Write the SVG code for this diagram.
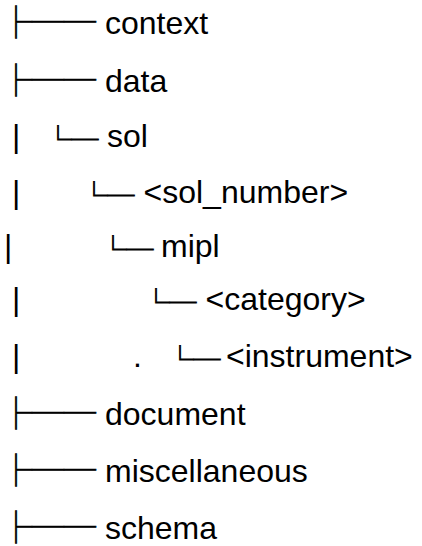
<svg xmlns="http://www.w3.org/2000/svg" width="422" height="546" viewBox="0 0 422 546">
<style>
.lbl{font-family:"Liberation Sans",Arial,sans-serif;font-size:32px;fill:#000}
.box{font-family:"Noto Sans CJK JP","Noto Sans CJK SC",sans-serif;font-size:32px;fill:#000;stroke:#000;stroke-width:0.7px}
.sub{font-family:"Noto Sans CJK JP","Noto Sans CJK SC",sans-serif;font-size:27px;fill:#000;stroke:#000;stroke-width:0.8px}
</style>
<rect width="422" height="546" fill="#fff"/>
<g id="connectors">
<text class="box" x="0" y="34">├──</text>
<text class="box" x="0" y="92">├──</text>
<text class="lbl" x="12" y="147">|</text>
<text class="sub" x="44.5" y="150.3">└─</text>
<text class="lbl" x="12" y="203">|</text>
<text class="sub" x="80.5" y="206.3">└─</text>
<text class="lbl" x="4" y="257">|</text>
<text class="sub" x="99.5" y="260.3">└─</text>
<text class="lbl" x="12" y="310">|</text>
<text class="sub" x="142.5" y="313.3">└─</text>
<text class="lbl" x="12" y="367">|</text>
<text class="lbl" x="133" y="367">.</text>
<text class="sub" x="166.5" y="370.3">└─</text>
<text class="box" x="0" y="425">├──</text>
<text class="box" x="0" y="482">├──</text>
<text class="box" x="0" y="539">├──</text>
</g>
<g id="context"><text class="lbl" x="105" y="34">context</text></g>
<g id="data"><text class="lbl" x="105" y="92">data</text></g>
<g id="sol"><text class="lbl" x="107" y="147">sol</text></g>
<g id="sol_number"><text class="lbl" x="143.5" y="203">&lt;sol_number&gt;</text></g>
<g id="mipl"><text class="lbl" x="161" y="257">mipl</text></g>
<g id="category"><text class="lbl" x="205.5" y="310">&lt;category&gt;</text></g>
<g id="instrument"><text class="lbl" x="226" y="367">&lt;instrument&gt;</text></g>
<g id="document"><text class="lbl" x="105" y="425">document</text></g>
<g id="miscellaneous"><text class="lbl" x="105" y="482">miscellaneous</text></g>
<g id="schema"><text class="lbl" x="105" y="539">schema</text></g>
</svg>
